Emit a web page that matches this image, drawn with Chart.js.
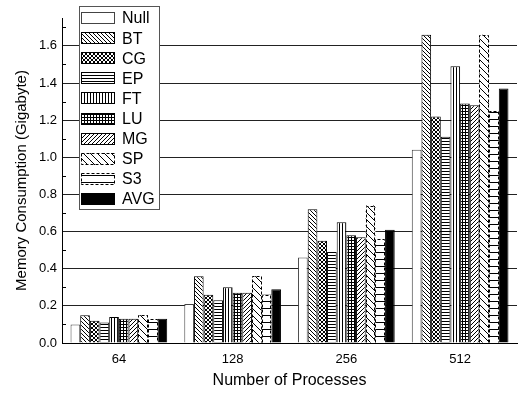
<!DOCTYPE html>
<html>
<head>
<meta charset="utf-8">
<script src="https://cdn.jsdelivr.net/npm/chart.js@4"></script>
<style>
  body { margin: 0; background: #fff; }
  #wrap { width: 518px; height: 394px; }
</style>
</head>
<body>
<div id="wrap"><canvas id="chart" width="518" height="394"></canvas></div>
<script>
// values (Gigabyte)
const categories = ['64', '128', '256', '512'];
const nullMem = [0.10, 0.21, 0.46, 1.04];
const btMem   = [0.15, 0.36, 0.72, 1.66];
const cgMem   = [0.12, 0.26, 0.55, 1.22];
const epMem   = [0.11, 0.23, 0.49, 1.11];
const ftMem   = [0.14, 0.30, 0.65, 1.49];
const luMem   = [0.13, 0.27, 0.58, 1.29];
const mgMem   = [0.13, 0.27, 0.57, 1.28];
const spMem   = [0.15, 0.36, 0.74, 1.66];
const s3Mem   = [0.13, 0.26, 0.56, 1.25];
const avgMem  = [0.13, 0.29, 0.61, 1.37];
const yMajor  = [0, 0.2, 0.4, 0.6, 0.8, 1.0, 1.2, 1.4, 1.6];
const yMinor  = [0.1, 0.3, 0.5, 0.7, 0.9, 1.1, 1.3, 1.5, 1.7];

Chart.defaults.font.family = '"Liberation Sans", Arial, sans-serif';
Chart.defaults.color = '#000';

// small hatch tiles
function hatch(size, draw) {
    const c = document.createElement('canvas');
    c.width = c.height = size;
    const g = c.getContext('2d');
    g.fillStyle = '#fff';
    g.fillRect(0, 0, size, size);
    g.strokeStyle = '#000';
    g.fillStyle = '#000';
    g.lineWidth = 1;
    draw(g, size);
    return g.createPattern(c, 'repeat');
}
function back(g, s) { // "\"
    g.beginPath();
    for (let i = -s; i <= s; i += s) { g.moveTo(i, 0); g.lineTo(i + s, s); }
    g.stroke();
}
function fwd(g, s) { // "/"
    g.beginPath();
    for (let i = -s; i <= s; i += s) { g.moveTo(i, s); g.lineTo(i + s, 0); }
    g.stroke();
}

const patBT = hatch(4, back);
const patCG = hatch(4, (g, s) => { back(g, s); fwd(g, s); });
const patEP = hatch(3, (g, s) => g.fillRect(0, 0, s, 1));
const patFT = hatch(3, (g, s) => g.fillRect(0, 0, 1, s));
const patLU = hatch(3, (g, s) => { g.fillRect(0, 0, s, 1); g.fillRect(0, 0, 1, s); });
const patMG = hatch(4, fwd);
const patSP = hatch(7, back);
const patS3 = hatch(7, (g, s) => g.fillRect(0, 0, s, 1));

const series = [
    { label: 'Null', data: nullMem, bg: '#fff', border: '#444' },
    { label: 'BT', data: btMem, bg: patBT, border: '#000' },
    { label: 'CG', data: cgMem, bg: patCG, border: '#000' },
    { label: 'EP', data: epMem, bg: patEP, border: '#000' },
    { label: 'FT', data: ftMem, bg: patFT, border: '#000' },
    { label: 'LU', data: luMem, bg: patLU, border: '#000' },
    { label: 'MG', data: mgMem, bg: patMG, border: '#000' },
    { label: 'SP', data: spMem, bg: patSP, border: '#000', dashed: true },
    { label: 'S3', data: s3Mem, bg: patS3, border: '#000', dashed: true },
    { label: 'AVG', data: avgMem, bg: '#000', border: '#000' }
];

// dashed outlines for SP / S3 (bars can't dash their border)
const dashPlugin = {
    id: 'dashBorder',
    afterDatasetsDraw(chart) {
        const ctx = chart.ctx;
        chart.data.datasets.forEach((ds, i) => {
            if (!ds.dashed) return;
            const meta = chart.getDatasetMeta(i);
            ctx.save();
            ctx.strokeStyle = '#000';
            ctx.lineWidth = 1;
            ctx.setLineDash([3, 2]);
            meta.data.forEach(bar => {
                const p = bar.getProps(['x', 'y', 'base', 'width'], true);
                const l = Math.round(p.x - p.width / 2) + 0.5;
                const r = Math.round(p.x + p.width / 2) - 0.5;
                const t = Math.round(p.y) + 0.5;
                ctx.beginPath();
                ctx.moveTo(l, p.base);
                ctx.lineTo(l, t);
                ctx.lineTo(r, t);
                ctx.lineTo(r, p.base);
                ctx.stroke();
            });
            ctx.restore();
        });
    }
};

// inward minor ticks on the y axis
const minorTicks = {
    id: 'minorTicks',
    afterDraw(chart) {
        const y = chart.scales.y;
        const ctx = chart.ctx;
        ctx.save();
        ctx.strokeStyle = '#000';
        ctx.lineWidth = 1;
        ctx.beginPath();
        yMinor.forEach(v => {
            const py = Math.round(y.getPixelForValue(v)) + 0.5;
            ctx.moveTo(y.right, py);
            ctx.lineTo(y.right + 4, py);
        });
        ctx.stroke();
        ctx.restore();
    }
};

// boxed legend inside the plot, top left
const boxLegend = {
    id: 'boxLegend',
    afterDraw(chart) {
        const ctx = chart.ctx;
        const left = 79, top = 6, w = 80, h = 203;
        ctx.save();
        ctx.fillStyle = '#fff';
        ctx.fillRect(left, top, w, h);
        ctx.strokeStyle = '#555';
        ctx.lineWidth = 1;
        ctx.strokeRect(left + 0.5, top + 0.5, w, h);
        ctx.font = '16px "Liberation Sans", Arial, sans-serif';
        ctx.textBaseline = 'middle';
        chart.data.datasets.forEach((ds, i) => {
            const cy = 18 + i * 20.1;
            const sx = 81, sy = Math.round(cy - 6);
            ctx.fillStyle = ds.backgroundColor;
            ctx.fillRect(sx, sy, 34, 12);
            ctx.strokeStyle = ds.borderColor;
            ctx.setLineDash(ds.dashed ? [3, 2] : []);
            ctx.strokeRect(sx + 0.5, sy + 0.5, 33, 11);
            ctx.setLineDash([]);
            ctx.fillStyle = '#000';
            ctx.fillText(ds.label, 122, cy + 1);
        });
        ctx.restore();
    }
};

new Chart(document.getElementById('chart'), {
    type: 'bar',
    data: {
        labels: categories,
        datasets: series.map(s => ({
            label: s.label,
            data: s.data,
            backgroundColor: s.bg,
            borderColor: s.border,
            borderWidth: s.dashed ? 0 : 1,
            dashed: !!s.dashed,
            categoryPercentage: 0.85,
            barPercentage: 1
        }))
    },
    options: {
        responsive: false,
        animation: false,
        layout: { padding: { top: 18, right: 1, left: 0, bottom: 0 } },
        plugins: {
            legend: { display: false },
            tooltip: { enabled: false }
        },
        scales: {
            x: {
                grid: { display: false, drawTicks: false },
                border: { color: '#000', width: 1 },
                ticks: { font: { size: 13 }, padding: 9 },
                title: {
                    display: true,
                    text: 'Number of Processes',
                    font: { size: 16 },
                    padding: { top: 0, bottom: 4 }
                },
                afterFit(scale) { scale.height = 51; }
            },
            y: {
                min: 0,
                max: 1.75,
                afterBuildTicks(scale) { scale.ticks = yMajor.map(v => ({ value: v })); },
                grid: {
                    color: '#222',
                    lineWidth: 1,
                    drawTicks: false
                },
                border: { color: '#000', width: 1 },
                ticks: {
                    font: { size: 13 },
                    padding: 5,
                    callback: v => v.toFixed(1)
                },
                title: {
                    display: true,
                    text: 'Memory Consumption (Gigabyte)',
                    font: { size: 15 },
                    padding: { top: 13, bottom: 0 }
                },
                afterFit(scale) { scale.width = 62; }
            }
        }
    },
    plugins: [dashPlugin, minorTicks, boxLegend]
});
</script>
</body>
</html>
